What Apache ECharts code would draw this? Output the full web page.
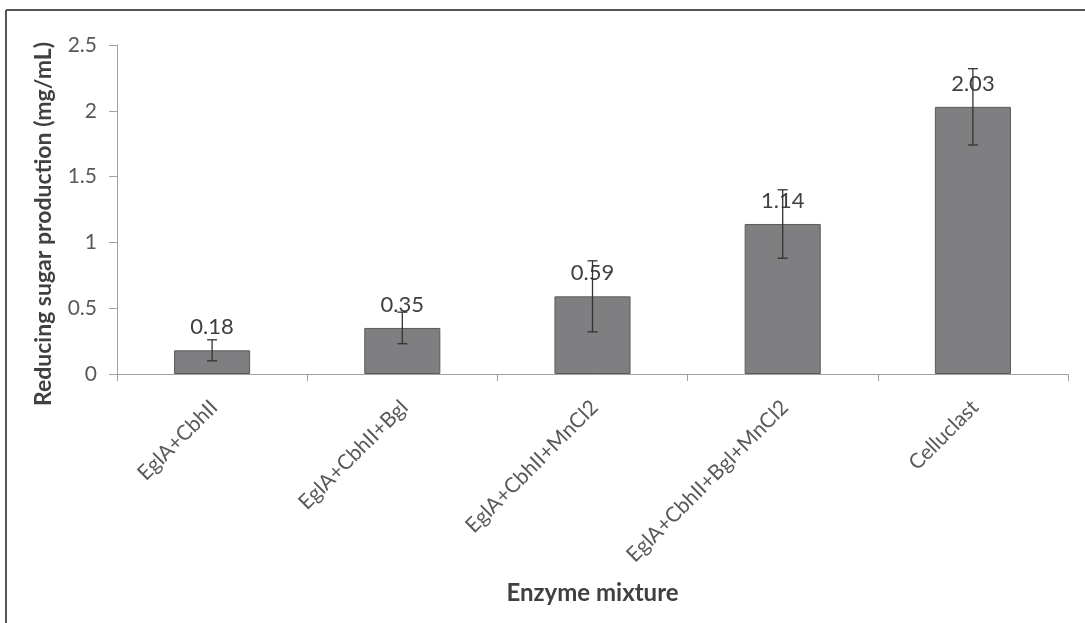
<!DOCTYPE html>
<html>
<head>
<meta charset="utf-8">
<script src="https://cdn.jsdelivr.net/npm/echarts@6/dist/echarts.min.js"></script>
<style>
html,body{margin:0;padding:0;background:#fff;}
#chart{width:1085px;height:623px;}
</style>
</head>
<body>
<div id="chart"></div>
<script>
const categories = ['EglA+CbhII', 'EglA+CbhII+Bgl', 'EglA+CbhII+MnCl2', 'EglA+CbhII+Bgl+MnCl2', 'Celluclast'];
const values = [0.18, 0.35, 0.59, 1.14, 2.03];
const errors = [0.08, 0.12, 0.27, 0.26, 0.29];
const yTicks = [0, 0.5, 1, 1.5, 2, 2.5];

const FONT = 'Lato, "Open Sans", sans-serif';
const chart = echarts.init(document.getElementById('chart'));

const errData = values.map((v, i) => [i, v - errors[i], v + errors[i]]);

chart.setOption({
  animation: false,
  backgroundColor: '#ffffff',
  grid: { left: 117, right: 17, top: 45, bottom: 249, containLabel: false },
  xAxis: {
    type: 'category',
    data: categories,
    axisLine: { lineStyle: { color: '#a0a0a0', width: 1 } },
    axisTick: { show: true, length: 7, lineStyle: { color: '#a0a0a0' } },
    axisLabel: { rotate: 45, fontFamily: FONT, fontSize: 21, color: '#595959', margin: 32, padding: [0, -3, 0, 0], interval: 0 },
    name: 'Enzyme mixture',
    nameLocation: 'middle',
    nameGap: 207,
    nameTextStyle: { fontFamily: FONT, fontSize: 24, fontWeight: 'bold', color: '#404040' }
  },
  yAxis: {
    type: 'value',
    min: 0, max: 2.5, interval: 0.5,
    axisLine: { show: true, lineStyle: { color: '#a0a0a0' } },
    axisTick: { show: true, length: 8, lineStyle: { color: '#a0a0a0' } },
    splitLine: { show: false },
    axisLabel: {
      fontFamily: FONT, fontSize: 21, color: '#595959', margin: 20,
      formatter: v => String(yTicks.find(t => Math.abs(t - v) < 1e-9) ?? v)
    }
  },
  graphic: [
    { type: 'line', shape: { x1: 6, y1: 10, x2: 1085, y2: 10 }, style: { stroke: '#555', lineWidth: 2 } },
    { type: 'line', shape: { x1: 6, y1: 10, x2: 6, y2: 623 }, style: { stroke: '#555', lineWidth: 2 } },
    {
      type: 'text', x: 44, y: 224, rotation: Math.PI / 2,
      style: { text: 'Reducing sugar production (mg/mL)', font: 'bold 23px ' + FONT, fill: '#404040', textAlign: 'center', textVerticalAlign: 'middle' }
    }
  ],
  series: [
    {
      type: 'bar',
      data: values,
      barWidth: '40%',
      itemStyle: { color: '#7f7f82', borderColor: '#5a5a5a', borderWidth: 1 },
      label: {
        show: true, position: 'top', distance: 12,
        fontFamily: FONT, fontSize: 22, color: '#404040',
        formatter: p => values[p.dataIndex].toFixed(2)
      },
      z: 2
    },
    {
      type: 'custom',
      data: errData,
      z: 5,
      renderItem: function (params, api) {
        const x = api.value(0);
        const lo = api.coord([x, api.value(1)]);
        const hi = api.coord([x, api.value(2)]);
        const hw = 5;
        const st = { stroke: '#333', lineWidth: 1.3 };
        return {
          type: 'group',
          children: [
            { type: 'line', shape: { x1: hi[0], y1: hi[1], x2: lo[0], y2: lo[1] }, style: st },
            { type: 'line', shape: { x1: hi[0] - hw, y1: hi[1], x2: hi[0] + hw, y2: hi[1] }, style: st },
            { type: 'line', shape: { x1: lo[0] - hw, y1: lo[1], x2: lo[0] + hw, y2: lo[1] }, style: st }
          ]
        };
      }
    }
  ]
});
</script>
</body>
</html>
